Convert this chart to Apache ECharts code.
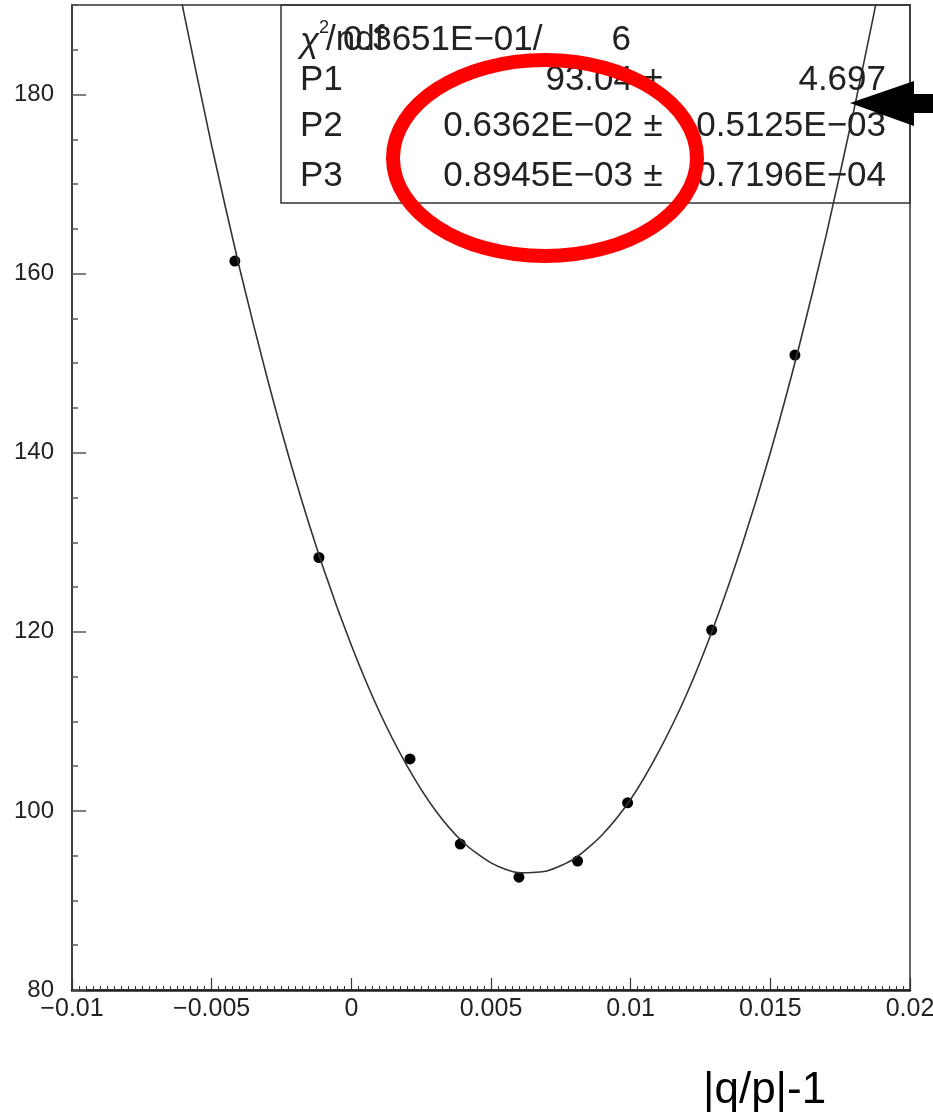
<!DOCTYPE html>
<html>
<head>
<meta charset="utf-8">
<script src="https://cdn.jsdelivr.net/npm/echarts@6/dist/echarts.min.js"></script>
<style>
  html, body { margin: 0; padding: 0; background: #fff; }
  #main { width: 933px; height: 1119px; }
</style>
</head>
<body>
<div id="main"></div>
<script>
var dataX = [-0.00417, -0.00116, 0.0021, 0.0039, 0.0060, 0.0081, 0.00989, 0.0129, 0.01588];
var dataY = [161.4, 128.3, 105.8, 96.3, 92.6, 94.4, 100.9, 120.2, 150.9];

// fitted curve
var fitX = [-0.0062, -0.006, -0.005, -0.004, -0.003, -0.002, -0.001, 0, 0.001, 0.002, 0.003, 0.004, 0.005, 0.006,
            0.007, 0.008, 0.009, 0.010, 0.011, 0.012, 0.013, 0.014, 0.015, 0.016, 0.017, 0.018, 0.0187, 0.0189];
var fitY = [192.4, 189.2, 174.3, 160.6, 148.2, 137.0, 127.1, 118.5, 111.1, 105.0, 100.1, 96.5, 94.2, 93.1,
            93.3, 94.7, 97.4, 101.3, 106.6, 113.0, 120.8, 129.8, 140.0, 151.5, 164.3, 178.4, 188.9, 192.1];

// stats box text
var statLabels = ['P1', 'P2', 'P3'];
var statValues = ['93.04', '0.6362E\u221202', '0.8945E\u221203'];
var statErrors = ['4.697', '0.5125E\u221203', '0.7196E\u221204'];
var chiValue = '0.3651E\u221201/';
var ndf = '6';

var chartDom = document.getElementById('main');
var myChart = echarts.init(chartDom);

var font = 'Liberation Sans, Arial, sans-serif';
var rowY = [80, 126, 176]; // P1..P3 row centres
var boxFont = '35px ' + font;

var graphics = [
  // stats box
  {type: 'rect', z: 10, shape: {x: 281, y: 5, width: 629, height: 198},
   style: {fill: 'none', stroke: '#333', lineWidth: 1.5}},
  {type: 'text', z: 11, x: 300, y: 42, style: {text: '\u03c7', font: 'italic 35px ' + font, fill: '#222', verticalAlign: 'middle'}},
  {type: 'text', z: 11, x: 319, y: 28, style: {text: '2', font: '18px ' + font, fill: '#222', verticalAlign: 'middle'}},
  {type: 'text', z: 11, x: 326, y: 40, style: {text: '/ndf', font: boxFont, fill: '#222', verticalAlign: 'middle'}},
  {type: 'text', z: 11, x: 343, y: 40, style: {text: chiValue, font: boxFont, fill: '#222', verticalAlign: 'middle'}},
  {type: 'text', z: 11, x: 631, y: 40, style: {text: ndf, font: boxFont, fill: '#222', align: 'right', verticalAlign: 'middle'}},
  // red ellipse
  {type: 'ellipse', z: 20, shape: {cx: 545, cy: 158, rx: 152, ry: 98},
   style: {fill: 'none', stroke: '#ff0000', lineWidth: 14}},
  // arrow
  {type: 'polygon', z: 20, shape: {points: [[850, 103], [914, 81], [914, 94], [933, 94], [933, 113], [914, 113], [914, 126]]},
   style: {fill: '#000'}},
  // axis title
  {type: 'text', z: 11, x: 703, y: 1091, style: {text: '|q/p|-1', font: '44px ' + font, fill: '#000', verticalAlign: 'middle'}}
];

statLabels.forEach(function (lab, i) {
  graphics.push({type: 'text', z: 11, x: 300, y: rowY[i], style: {text: lab, font: boxFont, fill: '#222', verticalAlign: 'middle'}});
  graphics.push({type: 'text', z: 11, x: 633, y: rowY[i], style: {text: statValues[i], font: boxFont, fill: '#222', align: 'right', verticalAlign: 'middle'}});
  graphics.push({type: 'text', z: 11, x: 653, y: rowY[i], style: {text: '\u00b1', font: boxFont, fill: '#222', align: 'center', verticalAlign: 'middle'}});
  graphics.push({type: 'text', z: 11, x: 886, y: rowY[i], style: {text: statErrors[i], font: boxFont, fill: '#222', align: 'right', verticalAlign: 'middle'}});
});

function fmt(v) {
  var s = String(+v.toFixed(4));
  return v < 0 ? '\u2212' + s.slice(1) : s;
}

var option = {
  animation: false,
  backgroundColor: '#fff',
  grid: {left: 72, right: 23, top: 5, bottom: 129, show: true, borderColor: '#333', borderWidth: 1.5,
         outerBoundsMode: 'none', containLabel: false},
  xAxis: {
    type: 'value', min: -0.01, max: 0.02, interval: 0.005,
    axisLine: {onZero: false, lineStyle: {color: '#222', width: 2.5}},
    axisTick: {inside: true, length: 12, lineStyle: {color: '#333', width: 1.2}},
    minorTick: {show: true, splitNumber: 20, length: 4, lineStyle: {color: '#333', width: 1}},
    splitLine: {show: false},
    axisLabel: {margin: 7, fontSize: 25, fontFamily: font, color: '#222', formatter: fmt}
  },
  yAxis: [{
    type: 'value', min: 80, max: 190, interval: 20,
    axisLine: {onZero: false, lineStyle: {color: '#333', width: 1.5}},
    axisTick: {inside: true, length: 14, lineStyle: {color: '#555', width: 1.5}},
    splitLine: {show: false},
    axisLabel: {margin: 18, fontSize: 24, fontFamily: font, color: '#222', showMaxLabel: false}
  }, {
    type: 'value', min: 80, max: 190, interval: 5, position: 'left',
    axisLine: {show: false, onZero: false},
    axisTick: {inside: true, length: 6, lineStyle: {color: '#555', width: 1.5}},
    splitLine: {show: false},
    axisLabel: {show: false}
  }],
  series: [{
    type: 'line', name: 'fit', smooth: 0.25, symbol: 'none',
    lineStyle: {color: '#333', width: 1.6},
    data: fitX.map(function (x, i) { return [x, fitY[i]]; })
  }, {
    type: 'scatter', name: 'data', symbolSize: 11,
    itemStyle: {color: '#000', opacity: 1},
    data: dataX.map(function (x, i) { return [x, dataY[i]]; })
  }],
  graphic: graphics
};

option && myChart.setOption(option);
</script>
</body>
</html>
